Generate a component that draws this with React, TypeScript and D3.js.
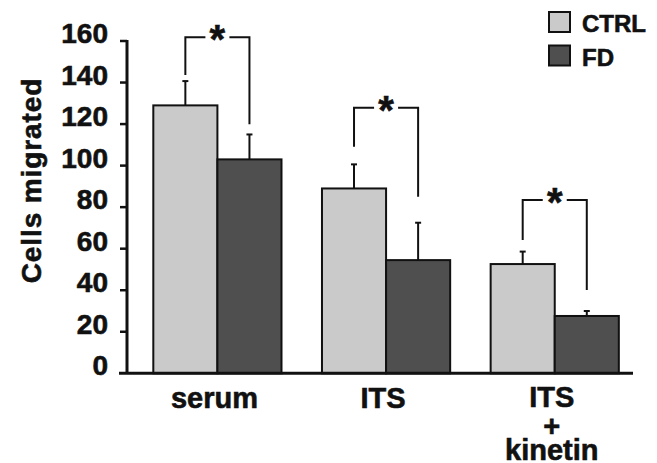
import React from "react";
import * as d3 from "d3";

const categories = ["serum", "ITS", "ITS+kinetin"];
const categoryLabelLines = [["serum"], ["ITS"], ["ITS", "+", "kinetin"]];
const seriesNames = ["CTRL", "FD"];
const ctrlValues = [129, 89, 52.6];
const fdValues = [103, 54.5, 27.6];
const ctrlErrors = [11.7, 11.6, 6];
const fdErrors = [12, 18, 2.4];
const yTicks = [0, 20, 40, 60, 80, 100, 120, 140, 160];
const bracketTop = [161.8, 127.9, 83.4];
const bracketLeftEnd = [143.6, 109.1, 64.2];
const bracketRightEnd = [119.9, 85, 40.1];

const W = 657;
const H = 463;
const FONT = "'Liberation Sans', Arial, Helvetica, sans-serif";
const colors = ["#cacaca", "#4f4f4f"];

export default function App() {
  const axisX = 127;
  const axisRight = 633;
  const x = d3
    .scaleBand<string>()
    .domain(categories)
    .range([axisX, axisRight])
    .paddingInner(0.24)
    .paddingOuter(0.12)
    .align(0.65);
  const xs = d3.scaleBand<string>().domain(seriesNames).range([0, x.bandwidth()]);
  const y = d3.scaleLinear().domain([0, 160]).range([373.3, 41]);
  const values = [ctrlValues, fdValues];
  const errors = [ctrlErrors, fdErrors];
  const bw = xs.bandwidth();
  const textStroke = { stroke: "#111", strokeWidth: 0.6 };

  return (
    <svg
      width={W}
      height={H}
      style={{ position: "absolute", left: 0, top: 0, background: "#fff" }}
      fontFamily={FONT}
      fontWeight="bold"
    >
      <rect width={W} height={H} fill="#fff" />
      {/* bars */}
      {categories.map((c, i) =>
        seriesNames.map((s, j) => {
          const bx = (x(c) as number) + (xs(s) as number);
          const v = values[j][i];
          const e = errors[j][i];
          const cx = bx + bw / 2;
          return (
            <g key={c + s}>
              <line x1={cx} x2={cx} y1={y(v)} y2={y(v + e)} stroke="#111" strokeWidth={2} />
              <line x1={cx - 3} x2={cx + 3} y1={y(v + e)} y2={y(v + e)} stroke="#111" strokeWidth={2} />
              <rect
                x={bx}
                y={y(v)}
                width={bw}
                height={y(0) - y(v)}
                fill={colors[j]}
                stroke="#111"
                strokeWidth={2}
              />
            </g>
          );
        })
      )}
      {/* significance brackets */}
      {categories.map((c, i) => {
        const lx = (x(c) as number) + (xs("CTRL") as number) + bw / 2;
        const rx = (x(c) as number) + (xs("FD") as number) + bw / 2;
        const ty = y(bracketTop[i]);
        const mid = (lx + rx) / 2;
        const path = `M${lx},${y(bracketLeftEnd[i])}V${ty}H${mid - 12}M${mid + 12},${ty}H${rx}V${y(bracketRightEnd[i])}`;
        return (
          <g key={"br" + c}>
            <path d={path} fill="none" stroke="#111" strokeWidth={2} />
            <text x={mid} y={ty + 16} textAnchor="middle" fontSize={40} fill="#111" {...textStroke}>
              *
            </text>
          </g>
        );
      })}
      {/* y axis */}
      <line x1={axisX} x2={axisX} y1={y(160) - 1} y2={y(0)} stroke="#111" strokeWidth={3} />
      {yTicks.map((t) => (
        <g key={"t" + t}>
          {t > 0 && <line x1={axisX - 7} x2={axisX} y1={y(t)} y2={y(t)} stroke="#111" strokeWidth={2.5} />}
          <text x={108} y={y(t) + 2} textAnchor="end" fontSize={28} fill="#111" {...textStroke}>
            {t}
          </text>
        </g>
      ))}
      <line x1={axisX - 8} x2={axisRight} y1={y(0)} y2={y(0)} stroke="#111" strokeWidth={3} />
      <text
        transform={`translate(41,${(78 + 283) / 2}) rotate(-90)`}
        textAnchor="middle"
        fontSize={28}
        letterSpacing={0.9}
        fill="#111"
        {...textStroke}
      >
        Cells migrated
      </text>
      {/* x labels */}
      {categories.map((c, i) => {
        const cx = (x(c) as number) + x.bandwidth() / 2 - 3;
        const lines = categoryLabelLines[i];
        const baselines = lines.length === 1 ? [408] : [407, 436, 460];
        return (
          <g key={"xl" + c}>
            {lines.map((l, k) => (
              <text key={k} x={cx} y={baselines[k]} textAnchor="middle" fontSize={29} fill="#111" {...textStroke}>
                {l}
              </text>
            ))}
          </g>
        );
      })}
      {/* legend */}
      {seriesNames.map((s, j) => (
        <g key={"lg" + s} transform={`translate(549,${12 + j * 33.5})`}>
          <rect width={21} height={20} fill={colors[j]} stroke="#111" strokeWidth={2} />
          <text x={33} y={20} fontSize={24} fill="#111" {...textStroke}>
            {s}
          </text>
        </g>
      ))}
    </svg>
  );
}
